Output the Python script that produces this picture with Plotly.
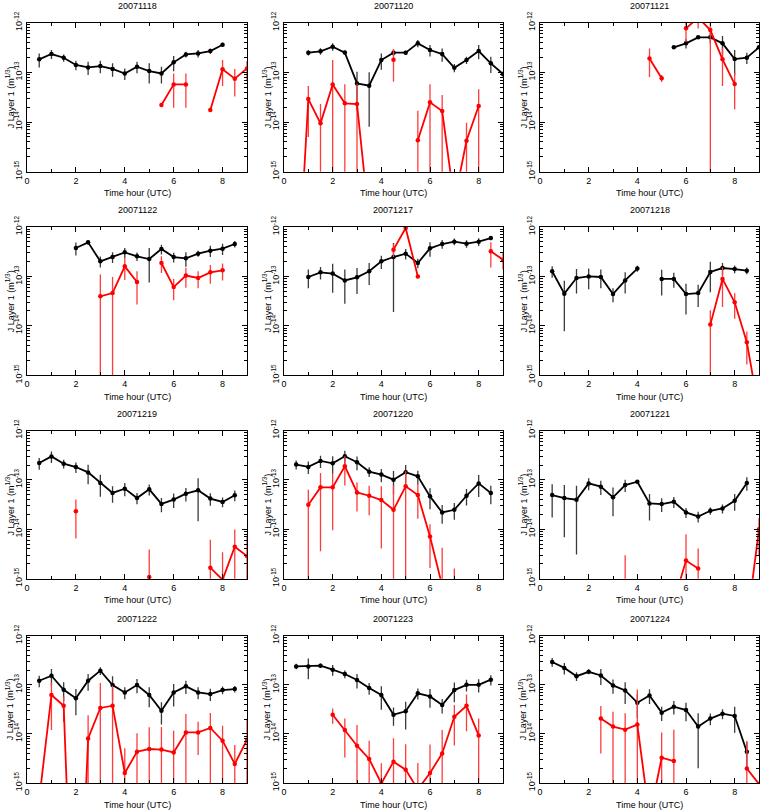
import plotly.graph_objects as go

# ---------------- data (values in units of 1e-14 m^(1/3)) ----------------
UNIT = 1e-14
hours = [0.5, 1.0, 1.5, 2.0, 2.5, 3.0, 3.5, 4.0, 4.5, 5.0, 5.5, 6.0, 6.5, 7.0, 7.5, 8.0, 8.5, 9.0]
dates = ["20071118", "20071120", "20071121", "20071122", "20071217", "20071218",
         "20071219", "20071220", "20071221", "20071222", "20071223", "20071224"]
N = None

bk_20071118 = [18.3, 23.4, 19.7, 14.1, 12.6, 13.4, 11.7, 9.5, 13.0, 10.6, 9.5, 15.9, 23.0, 24.1, 26.9, 36.1, N, N]
bke_20071118 = [5.8, 4.8, 3.3, 3.1, 3.8, 3.8, 3.5, 2.5, 3.4, 4.6, 3.5, 5.4, 3.1, 4.1, 3.5, 3.5, N, N]
rd_20071118 = [N, N, N, N, N, N, N, N, N, N, 2.2, 5.73, 5.73, N, 1.75, 11.5, 7.45, 12.0]
rde_20071118 = [N, N, N, N, N, N, N, N, N, N, 0, 3.8, 3.8, N, 0, 6.2, 4.2, 5.0]

bk_20071120 = [N, 24.9, 26.5, 32.9, 25.0, 6.0, 5.4, 17.7, 24.9, 24.9, 38.4, 28.2, 23.4, 12.4, 17.7, 26.9, 15.2, 9.25]
bke_20071120 = [N, 3.0, 4.0, 5.5, 2.5, 4.3, 4.6, 6.4, 3.5, 2.5, 6.4, 7.3, 7.0, 2.3, 3.0, 8.6, 5.5, 1.0]
rd_20071120 = [0.00015, 2.9, 0.94, 5.7, 2.38, 2.3, 0.01, N, 18.0, N, 0.43, 2.49, 1.66, 0.025, 0.42, 2.1, N, N]
rde_20071120 = [0, 2.4, 1.36, 12.0, 3.4, 3.7, 0, N, 11.5, N, 1.26, 3.3, 1.84, 0, 0.55, 2.45, N, N]

bk_20071121 = [N, N, N, N, N, N, N, N, N, N, 31.9, 38.4, 50.7, 50.7, 38.4, 18.5, 19.7, 31.9]
bke_20071121 = [N, N, N, N, N, N, N, N, N, N, 1.0, 8.0, 4.0, 12.0, 15.5, 9.7, 5.0, 2.0]
rd_20071121 = [N, N, N, N, N, N, N, N, 19.1, 7.6, N, 77.0, 126.0, 71.0, 18.3, 5.8, N, N]
rde_20071121 = [N, N, N, N, N, N, N, N, 11.0, 1.2, N, 36.0, 50.0, 80.0, 13.0, 4.0, N, N]

bk_20071122 = [N, N, N, 37.6, 49.0, 20.2, 24.7, 30.7, 25.5, 22.5, 35.9, 24.7, 23.2, 28.9, 33.2, 36.5, 45.3, N]
bke_20071122 = [N, N, N, 11.0, 5.0, 5.0, 6.0, 7.0, 5.0, 15.0, 8.0, 5.5, 7.5, 4.0, 8.5, 9.5, 7.0, N]
rd_20071122 = [N, N, N, N, N, 3.96, 4.6, 16.0, 7.7, N, 18.7, 6.1, 10.4, 9.3, 12.1, 13.3, N, N]
rde_20071122 = [N, N, N, N, N, 7.0, 5.1, 7.5, 5.0, N, 7.0, 2.8, 4.5, 3.5, 5.0, 5.0, N, N]

bk_20071217 = [N, 9.75, 12.1, 11.4, 8.3, 9.6, 12.7, 20.2, 24.7, 28.9, 18.7, 37.0, 45.3, 50.5, 46.0, 50.5, 59.8, N]
bke_20071217 = [N, 4.0, 3.4, 6.7, 5.5, 5.2, 6.0, 6.0, 22.8, 7.0, 4.0, 12.0, 9.0, 8.0, 8.0, 9.0, 6.0, N]
rd_20071217 = [N, N, N, N, N, N, N, N, 34.8, 95.5, 10.0, N, N, N, N, N, 32.2, 21.8]
rde_20071217 = [N, N, N, N, N, N, N, N, 10.0, 0, 0, N, N, N, N, N, 17.0, 8.0]

bk_20071218 = [12.7, 4.48, 9.3, 10.0, 9.75, 4.4, 8.3, 14.4, N, 8.9, 8.9, 4.4, 4.6, 12.3, 14.8, 14.1, 13.1, N]
bke_20071218 = [3.3, 3.7, 4.8, 4.5, 4.0, 1.4, 3.8, 2.0, N, 4.8, 3.0, 2.7, 2.2, 7.5, 4.0, 2.5, 2.0, N]
rd_20071218 = [N, N, N, N, N, N, N, N, N, N, N, N, N, 1.06, 8.9, 2.99, 0.465, 0.019]
rde_20071218 = [N, N, N, N, N, N, N, N, N, N, N, N, N, 1.02, 6.5, 1.6, 0.3, 0]

bk_20071219 = [21.9, 29.9, 21.3, 18.2, 14.2, 8.65, 5.44, 6.65, 4.3, 6.45, 3.27, 3.99, 5.27, 6.16, 4.18, 3.58, 4.89, N]
bke_20071219 = [5.8, 7.8, 4.3, 4.4, 6.0, 4.1, 2.0, 2.0, 1.1, 1.6, 1.05, 1.3, 1.6, 4.7, 1.2, 0.8, 1.2, N]
rd_20071219 = [N, N, N, 2.32, N, N, N, N, N, 0.108, N, N, N, N, 0.167, 0.095, 0.443, 0.287]
rde_20071219 = [N, N, N, 1.67, N, N, N, N, N, 0.28, N, N, N, N, 0.45, 0.25, 0.55, 0.46]

bk_20071220 = [20.4, 18.3, 24.2, 21.7, 30.1, 22.7, 14.7, 12.8, 10.1, 14.3, 11.8, 4.64, 2.19, 2.48, 4.78, 8.5, 5.42, N]
bke_20071220 = [4.2, 5.2, 6.8, 8.4, 9.0, 7.0, 3.3, 3.8, 5.0, 5.8, 3.6, 2.1, 0.9, 0.92, 1.75, 4.0, 2.2, N]
rd_20071220 = [N, 3.14, 7.06, 7.06, 18.9, 5.59, 4.78, 3.91, 2.48, 7.4, 4.93, 0.714, 0.072, 0.05, N, N, N, N]
rde_20071220 = [N, 3.2, 6.7, 6.1, 11.2, 3.3, 2.85, 3.5, 5.2, 7.5, 3.3, 0.55, 0.35, 0.11, N, N, N, N]

bk_20071221 = [4.93, 4.29, 3.97, 8.5, 7.29, 4.43, 7.87, 9.2, 3.34, 3.24, 3.61, 2.19, 1.82, 2.37, 2.64, 3.78, 8.65, N]
bke_20071221 = [3.2, 3.6, 3.66, 2.3, 2.35, 2.6, 2.2, 0.8, 1.84, 1.0, 0.9, 0.5, 0.45, 0.4, 0.55, 1.4, 2.6, N]
rd_20071221 = [N, N, N, N, N, N, 0.05, N, N, N, 0.034, 0.233, 0.16, N, N, N, 0.012, 1.0]
rde_20071221 = [N, N, N, N, N, N, 0.25, N, N, N, 0, 0.56, 0.25, N, N, N, 0, 0.7]

bk_20071222 = [12.1, 15.3, 7.94, 5.3, 12.1, 19.4, 9.9, 7.0, 9.9, 6.2, 2.97, 7.0, 9.3, 7.0, 6.49, 7.8, 8.2, N]
bke_20071222 = [3.2, 5.7, 3.3, 2.9, 4.5, 3.5, 5.0, 1.9, 3.2, 2.7, 1.42, 3.4, 2.8, 1.9, 1.8, 1.4, 1.2, N]
rd_20071222 = [0.046, 6.2, 3.75, 0.000001, 0.81, 3.37, 3.75, 0.16, 0.434, 0.492, 0.48, 0.42, 1.07, 1.07, 1.32, 0.728, 0.244, 0.76]
rde_20071222 = [0, 5.0, 2.0, 0, 1.6, 7.5, 5.8, 0.35, 0.6, 0.87, 0.9, 0.74, 1.47, 0.7, 1.34, 0.74, 0.35, 1.25]

bk_20071223 = [23.7, 23.7, 24.5, 20.3, 16.6, 12.5, 8.6, 6.2, 2.46, 2.88, 6.7, 5.8, 3.87, 7.8, 10.0, 10.0, 12.7, N]
bke_20071223 = [3.0, 10.8, 2.5, 5.0, 3.0, 4.1, 2.3, 3.1, 1.0, 1.65, 1.7, 2.4, 1.26, 3.4, 2.7, 3.0, 3.0, N]
rd_20071223 = [N, N, N, 2.46, 1.2, 0.575, 0.308, 0.098, 0.272, 0.187, 0.074, 0.16, 0.40, 2.23, 3.73, 0.93, N, N]
rde_20071223 = [N, N, N, 0.85, 0.87, 0.94, 0.42, 0.155, 0.54, 0.43, 0.18, 0.45, 0.8, 1.65, 2.6, 1.14, N, N]

bk_20071224 = [29.2, 22.1, 15.0, 18.4, 15.5, 9.7, 7.67, 4.32, 6.08, 2.71, 3.58, 3.06, 1.41, 2.05, 2.58, 2.32, 0.432, N]
bke_20071224 = [6.0, 5.8, 3.0, 2.0, 5.6, 3.1, 3.6, 2.2, 2.0, 0.87, 1.1, 1.26, 1.21, 0.55, 0.6, 1.26, 0.25, N]
rd_20071224 = [N, N, N, N, 2.05, 1.41, 1.22, 1.55, 0.02, 0.327, 0.279, N, N, N, N, N, 0.198, 0.095]
rde_20071224 = [N, N, N, N, 1.65, 1.4, 1.4, 6.5, 0, 0.74, 0.93, N, N, N, N, N, 0.52, 0]

panels = [
    (bk_20071118, bke_20071118, rd_20071118, rde_20071118),
    (bk_20071120, bke_20071120, rd_20071120, rde_20071120),
    (bk_20071121, bke_20071121, rd_20071121, rde_20071121),
    (bk_20071122, bke_20071122, rd_20071122, rde_20071122),
    (bk_20071217, bke_20071217, rd_20071217, rde_20071217),
    (bk_20071218, bke_20071218, rd_20071218, rde_20071218),
    (bk_20071219, bke_20071219, rd_20071219, rde_20071219),
    (bk_20071220, bke_20071220, rd_20071220, rde_20071220),
    (bk_20071221, bke_20071221, rd_20071221, rde_20071221),
    (bk_20071222, bke_20071222, rd_20071222, rde_20071222),
    (bk_20071223, bke_20071223, rd_20071223, rde_20071223),
    (bk_20071224, bke_20071224, rd_20071224, rde_20071224),
]

x_ticks = [0, 2, 4, 6, 8]
y_tickvals = [1e-15, 1e-14, 1e-13, 1e-12]
y_ticktext = ["10<sup>-15</sup>", "10<sup>-14</sup>", "10<sup>-13</sup>", "10<sup>-12</sup>"]
y_minor = [m * 10.0 ** e for e in (-15, -14, -13) for m in range(2, 10)]

# ---------------- layout geometry (pixels) ----------------
W, H = 763, 811
cols = [(27, 247), (284, 503), (540, 759)]
rows = [(22.7, 171.7), (227, 375.3), (430.5, 578.7), (635.7, 783)]
FONT = "Liberation Sans, Arial, Helvetica, sans-serif"


def scale(a):
    return [None if v is None else v * UNIT for v in a]


fig = go.Figure()
layout = dict(template="none", width=W, height=H, margin=dict(l=0, r=0, t=0, b=0, autoexpand=False),
              paper_bgcolor="white", plot_bgcolor="white", showlegend=False, hovermode=False,
              font=dict(family=FONT, size=9, color="black"))
annotations = []

for i, (bk, bke, rd, rde) in enumerate(panels):
    r, c = divmod(i, 3)
    (l, rr), (t, b) = cols[c], rows[r]
    n = "" if i == 0 else str(i + 1)
    xd = [l / W, rr / W]
    yd = [1 - b / H, 1 - t / H]
    layout["xaxis" + n] = dict(
        domain=xd, range=[0, 9], anchor="y" + n, tickmode="array", tickvals=x_ticks,
        ticks="inside", ticklen=5, tickwidth=1, tickcolor="black", automargin=False,
        minor=dict(ticks="inside", ticklen=3, dtick=1, tick0=0, tickcolor="black", showgrid=False),
        showline=True, linecolor="black", linewidth=1, mirror="ticks",
        showgrid=False, zeroline=False, tickfont=dict(size=9, family=FONT))
    layout["yaxis" + n] = dict(
        domain=yd, type="log", range=[-15, -12], anchor="x" + n, tickmode="array",
        tickvals=y_tickvals, ticktext=y_ticktext, tickangle=-90, automargin=False,
        ticks="inside", ticklen=5, tickwidth=1, tickcolor="black",
        minor=dict(ticks="inside", ticklen=3, tickvals=y_minor, tickcolor="black", showgrid=False),
        showline=True, linecolor="black", linewidth=1, mirror="ticks",
        showgrid=False, zeroline=False, tickfont=dict(size=9, family=FONT))

    fig.add_trace(go.Scatter(
        x=hours, y=scale(bk), xaxis="x" + n, yaxis="y" + n, mode="lines+markers",
        line=dict(color="black", width=1.8), marker=dict(color="black", size=4.5),
        error_y=dict(type="data", array=scale(bke), visible=True, width=0,
                     thickness=1.3, color="#3a3a3a")))
    fig.add_trace(go.Scatter(
        x=hours, y=scale(rd), xaxis="x" + n, yaxis="y" + n, mode="lines+markers",
        line=dict(color="#ff0000", width=1.8), marker=dict(color="#ff0000", size=4.5),
        error_y=dict(type="data", array=scale(rde), visible=True, width=0,
                     thickness=1.3, color="#ff3b3b")))

    cx = (l + rr) / 2 / W
    annotations.append(dict(text=dates[i], x=cx, y=1 - (t - 17) / H, xref="paper", yref="paper",
                            showarrow=False, xanchor="center", yanchor="middle",
                            font=dict(size=9, family=FONT)))
    annotations.append(dict(text="Time hour (UTC)", x=cx, y=1 - (b + 21.5) / H, xref="paper",
                            yref="paper", showarrow=False, xanchor="center", yanchor="middle",
                            font=dict(size=9, family=FONT)))
    annotations.append(dict(text="J Layer 1 (m<sup>1/3</sup>)", x=(l - 17) / W,
                            y=1 - (t + b) / 2 / H, xref="paper", yref="paper", showarrow=False,
                            xanchor="center", yanchor="middle", textangle=-90,
                            font=dict(size=9, family=FONT)))

layout["annotations"] = annotations
fig.update_layout(**layout)
fig.write_html("out.html", config={"displayModeBar": False, "staticPlot": True},
               post_script="document.body.style.margin='0';document.body.style.padding='0';"
                           "document.body.style.overflow='hidden';")
